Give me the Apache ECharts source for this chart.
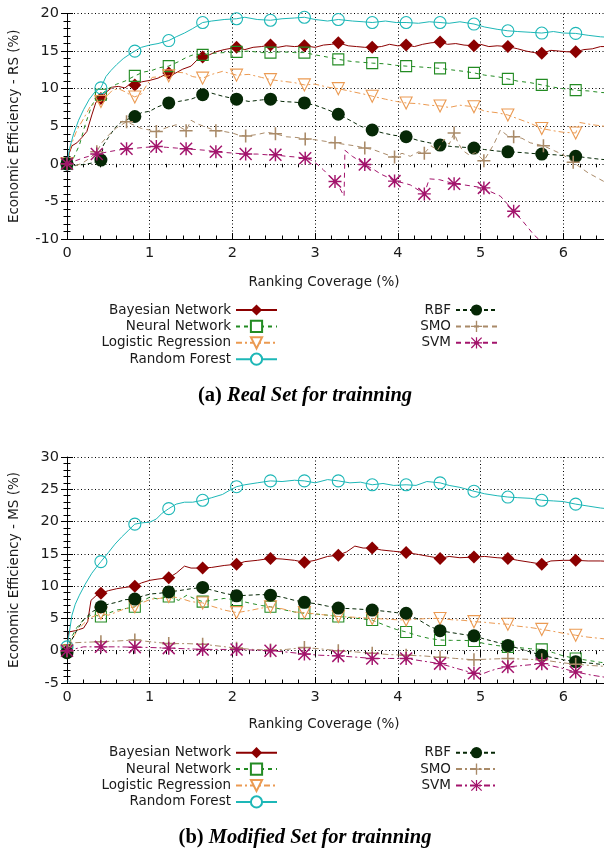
<!DOCTYPE html>
<html>
<head>
<meta charset="utf-8">
<script src="https://cdn.jsdelivr.net/npm/echarts@6/dist/echarts.min.js"></script>
<style>
html, body { margin: 0; padding: 0; background: #fff; }
#top { position: absolute; left: 0; top: 0; width: 604px; height: 424px; }
#bottom { position: absolute; left: 0; top: 424px; width: 604px; height: 425px; }
</style>
</head>
<body>
<div id="top"></div>
<div id="bottom"></div>
<script>
var names = ['Bayesian Network', 'Neural Network', 'Logistic Regression', 'Random Forest', 'RBF', 'SMO', 'SVM'];
var xTicks = [0, 1, 2, 3, 4, 5, 6];

// where the point markers sit (ranking coverage, %)
var markA = [0, 0.41, 0.82, 1.23, 1.64, 2.05, 2.46, 2.87, 3.28, 3.69, 4.1, 4.51, 4.92, 5.33, 5.74, 6.15];
var markB = [0, 0.36, 0.72, 1.08, 1.44, 1.8, 2.16, 2.52, 2.88, 3.24, 3.6, 3.96, 4.32, 4.68, 5.04, 5.4, 5.76, 6.12];

// (a) real set: [coverage %, efficiency %]
var bnA = [[0,0],[0.03,1.5],[0.06,2.4],[0.12,2.8],[0.18,3.5],[0.24,4.3],[0.3,6.5],[0.35,8.2],[0.41,8.7],[0.48,9.6],[0.55,10.2],[0.62,10.3],[0.7,10.1],[0.76,10.6],[0.82,10.5],[0.9,10.9],[1.0,11.1],[1.1,11.4],[1.23,12.1],[1.3,12.0],[1.4,12.6],[1.5,13.0],[1.58,13.9],[1.64,14.2],[1.72,14.5],[1.8,14.9],[1.9,15.2],[2.05,15.5],[2.15,15.2],[2.25,15.5],[2.35,15.6],[2.46,15.8],[2.55,15.5],[2.65,15.7],[2.75,15.6],[2.87,15.7],[3.0,15.5],[3.1,15.8],[3.2,15.9],[3.28,16.1],[3.4,15.7],[3.5,15.6],[3.6,15.5],[3.69,15.5],[3.8,15.6],[3.9,15.9],[4.0,15.7],[4.1,15.8],[4.2,15.6],[4.3,15.9],[4.4,16.1],[4.51,16.2],[4.6,15.9],[4.7,16.0],[4.8,15.8],[4.92,15.7],[5.0,15.9],[5.1,15.6],[5.2,15.7],[5.33,15.6],[5.45,15.3],[5.55,15.0],[5.65,14.8],[5.74,14.7],[5.85,15.1],[5.95,15.0],[6.05,14.9],[6.15,14.9],[6.25,15.2],[6.35,15.3],[6.45,15.6],[6.6,15.6]];
var nnA = [[0,0],[0.08,0.8],[0.15,2.5],[0.22,5.2],[0.3,7.8],[0.36,8.8],[0.41,9.2],[0.5,10.0],[0.6,10.6],[0.7,11.0],[0.82,11.7],[0.92,12.2],[1.02,12.4],[1.12,12.8],[1.23,13.0],[1.35,13.6],[1.45,14.2],[1.55,14.6],[1.64,14.5],[1.75,14.7],[1.9,14.8],[2.05,14.9],[2.2,15.0],[2.35,14.8],[2.46,14.8],[2.6,14.9],[2.75,14.8],[2.87,14.8],[3.0,14.5],[3.15,14.2],[3.28,13.9],[3.45,13.6],[3.58,13.5],[3.69,13.4],[3.85,13.3],[3.98,13.1],[4.1,13.0],[4.25,12.9],[4.38,12.8],[4.51,12.7],[4.65,12.5],[4.8,12.3],[4.92,12.1],[5.05,11.8],[5.2,11.6],[5.33,11.3],[5.45,11.0],[5.6,10.8],[5.74,10.5],[5.88,10.2],[6.0,10.0],[6.15,9.8],[6.3,9.7],[6.45,9.5],[6.6,9.4]];
var lrA = [[0,0],[0.05,2.5],[0.12,4.5],[0.2,6.0],[0.28,7.6],[0.35,8.2],[0.41,8.3],[0.48,9.0],[0.55,9.8],[0.62,10.0],[0.7,9.6],[0.76,9.2],[0.82,8.9],[0.9,9.3],[0.97,10.6],[1.03,11.5],[1.12,11.6],[1.23,11.7],[1.32,12.2],[1.42,12.1],[1.52,11.6],[1.64,11.4],[1.75,11.9],[1.88,12.3],[2.05,11.8],[2.2,11.9],[2.35,11.5],[2.46,11.2],[2.6,11.0],[2.75,10.8],[2.87,10.5],[3.0,10.6],[3.15,10.2],[3.28,10.0],[3.45,9.6],[3.58,9.3],[3.69,9.0],[3.85,8.6],[3.98,8.3],[4.1,8.1],[4.25,8.0],[4.38,7.8],[4.51,7.7],[4.62,7.5],[4.75,7.8],[4.92,7.6],[5.05,7.0],[5.2,6.8],[5.33,6.5],[5.45,6.0],[5.6,5.4],[5.74,4.7],[5.88,4.4],[6.0,4.2],[6.15,4.1],[6.2,5.5],[6.35,5.2],[6.5,5.0],[6.6,4.9]];
var rfA = [[0,0],[0.03,2.0],[0.08,4.0],[0.14,5.8],[0.2,7.2],[0.27,8.6],[0.34,9.6],[0.41,10.1],[0.47,11.6],[0.53,12.4],[0.6,13.2],[0.68,14.0],[0.76,14.6],[0.82,15.0],[0.9,15.5],[1.0,15.8],[1.1,16.0],[1.23,16.4],[1.32,16.9],[1.42,17.4],[1.52,18.0],[1.64,18.8],[1.75,19.0],[1.9,19.2],[2.05,19.3],[2.15,19.5],[2.3,19.2],[2.46,19.1],[2.6,19.3],[2.75,19.4],[2.87,19.5],[3.0,19.2],[3.15,19.0],[3.28,19.2],[3.45,19.0],[3.58,18.9],[3.69,18.8],[3.85,19.0],[3.98,18.8],[4.1,18.8],[4.25,18.7],[4.38,18.9],[4.51,18.8],[4.62,18.7],[4.75,18.9],[4.92,18.6],[5.05,18.2],[5.2,17.9],[5.33,17.7],[5.45,17.6],[5.6,17.5],[5.74,17.4],[5.88,17.6],[6.0,17.4],[6.15,17.35],[6.3,17.1],[6.45,16.9],[6.6,16.8]];
var rbfA = [[0,0],[0.1,-0.2],[0.2,-0.1],[0.3,0.1],[0.41,0.5],[0.44,2.5],[0.5,3.5],[0.58,4.8],[0.66,5.6],[0.75,6.0],[0.82,6.3],[0.9,6.8],[1.0,7.0],[1.1,7.6],[1.23,8.1],[1.35,8.3],[1.5,8.6],[1.64,9.2],[1.75,9.4],[1.88,9.0],[2.05,8.6],[2.2,8.3],[2.35,8.5],[2.46,8.6],[2.6,8.3],[2.75,8.2],[2.87,8.1],[3.0,7.8],[3.15,7.2],[3.28,6.6],[3.42,5.8],[3.55,5.0],[3.69,4.5],[3.82,4.1],[3.95,3.8],[4.1,3.6],[4.25,3.1],[4.38,2.8],[4.51,2.5],[4.65,2.3],[4.8,2.2],[4.92,2.1],[5.05,1.9],[5.2,1.7],[5.33,1.6],[5.5,1.5],[5.6,1.4],[5.74,1.3],[5.9,1.2],[6.0,1.1],[6.15,1.0],[6.3,0.8],[6.45,0.6],[6.6,0.5]];
var smoA = [[0,0],[0.1,-0.3],[0.2,0.2],[0.28,0.8],[0.36,1.6],[0.42,2.8],[0.5,3.8],[0.6,4.8],[0.72,5.6],[0.8,5.2],[0.9,4.7],[1.0,4.5],[1.08,4.3],[1.2,4.8],[1.32,5.2],[1.44,4.4],[1.5,5.8],[1.58,5.3],[1.7,4.8],[1.8,4.4],[1.9,4.3],[2.0,4.1],[2.08,3.8],[2.16,3.7],[2.3,3.9],[2.42,4.2],[2.52,4.0],[2.65,3.6],[2.78,3.5],[2.88,3.3],[3.0,3.2],[3.12,3.0],[3.24,2.8],[3.35,2.6],[3.48,2.4],[3.6,2.1],[3.7,1.9],[3.8,1.5],[3.9,1.1],[3.96,0.9],[4.05,1.4],[4.15,1.0],[4.25,1.6],[4.32,1.4],[4.4,2.4],[4.48,1.8],[4.56,3.3],[4.62,2.6],[4.68,4.1],[4.72,3.0],[4.78,1.8],[4.86,1.2],[4.94,1.5],[5.04,0.4],[5.1,1.5],[5.16,2.6],[5.24,4.5],[5.32,3.8],[5.4,3.6],[5.5,3.4],[5.6,2.8],[5.76,2.4],[5.9,1.7],[6.0,1.2],[6.12,0.2],[6.3,-1.2],[6.5,-2.4],[6.6,-2.8]];
var svmA = [[0,0],[0.1,0.4],[0.2,0.8],[0.36,1.3],[0.5,1.6],[0.6,1.8],[0.72,2.0],[0.85,2.1],[0.95,2.2],[1.08,2.3],[1.2,2.2],[1.32,2.1],[1.44,2.0],[1.56,1.9],[1.68,1.8],[1.8,1.6],[1.92,1.5],[2.04,1.4],[2.16,1.3],[2.3,1.3],[2.42,1.2],[2.52,1.2],[2.65,1.0],[2.78,0.9],[2.88,0.75],[2.95,0.5],[3.02,0.0],[3.1,-0.8],[3.18,-1.7],[3.24,-2.35],[3.3,-3.3],[3.35,-4.3],[3.36,1.8],[3.45,1.0],[3.52,0.5],[3.6,-0.1],[3.7,-0.7],[3.8,-1.4],[3.9,-1.9],[3.96,-2.3],[4.05,-2.5],[4.15,-2.8],[4.25,-3.5],[4.32,-4.0],[4.38,-2.0],[4.5,-2.1],[4.6,-2.4],[4.68,-2.65],[4.8,-2.8],[4.92,-3.0],[5.04,-3.2],[5.12,-3.7],[5.24,-4.3],[5.32,-5.3],[5.4,-6.3],[5.5,-7.5],[5.56,-8.3],[5.64,-9.4],[5.7,-10.0],[5.76,-10.9],[5.9,-12],[6.12,-13],[6.6,-14]];

// (b) modified set
var bnB = [[0,0],[0.02,2.9],[0.1,3.1],[0.2,3.5],[0.25,4.5],[0.29,7.8],[0.35,8.5],[0.41,8.9],[0.5,9.3],[0.6,9.6],[0.7,9.8],[0.82,10.0],[0.9,10.5],[1.0,10.9],[1.1,11.1],[1.23,11.3],[1.32,12.0],[1.42,13.1],[1.5,12.8],[1.64,12.8],[1.75,12.9],[1.9,13.2],[2.05,13.4],[2.15,13.8],[2.3,14.0],[2.46,14.3],[2.6,14.2],[2.75,14.0],[2.87,13.7],[3.0,14.0],[3.15,14.6],[3.28,14.8],[3.38,15.3],[3.48,16.2],[3.58,15.9],[3.69,15.9],[3.8,15.6],[3.95,15.4],[4.1,15.2],[4.25,14.9],[4.38,14.6],[4.51,14.3],[4.62,14.6],[4.75,14.4],[4.92,14.5],[5.05,14.6],[5.2,14.4],[5.33,14.3],[5.45,14.0],[5.6,13.7],[5.74,13.4],[5.85,13.9],[6.0,14.0],[6.15,14.0],[6.3,13.9],[6.45,13.9],[6.6,13.8]];
var nnB = [[0,0],[0.05,2.0],[0.12,3.6],[0.2,4.8],[0.3,5.6],[0.41,5.3],[0.5,5.8],[0.6,6.3],[0.7,6.5],[0.82,6.8],[0.9,7.6],[1.0,8.3],[1.1,8.0],[1.23,8.4],[1.35,7.8],[1.45,8.6],[1.55,8.0],[1.64,7.6],[1.75,7.8],[1.9,8.1],[2.05,7.85],[2.2,7.4],[2.35,7.0],[2.46,6.8],[2.6,6.4],[2.75,6.0],[2.87,5.8],[3.0,5.7],[3.15,5.5],[3.28,5.3],[3.45,5.1],[3.58,4.9],[3.69,4.75],[3.85,3.9],[3.98,3.3],[4.1,2.9],[4.25,2.3],[4.38,1.9],[4.51,1.66],[4.65,1.6],[4.8,1.6],[4.92,1.5],[5.05,1.1],[5.2,0.8],[5.33,0.6],[5.45,0.5],[5.6,0.3],[5.74,0.2],[5.88,-0.3],[6.0,-0.8],[6.15,-1.2],[6.3,-1.5],[6.45,-1.8],[6.6,-2.0]];
var lrB = [[0,0],[0.05,1.5],[0.12,3.0],[0.2,4.2],[0.3,5.2],[0.41,5.8],[0.5,5.5],[0.6,6.0],[0.7,6.5],[0.82,6.8],[0.92,7.5],[1.02,8.0],[1.12,8.1],[1.23,8.4],[1.35,8.2],[1.5,7.6],[1.64,7.4],[1.75,6.9],[1.9,6.3],[2.05,5.9],[2.2,6.2],[2.35,6.6],[2.46,6.8],[2.6,6.5],[2.75,6.0],[2.87,5.9],[3.0,5.7],[3.15,5.5],[3.28,5.3],[3.45,5.2],[3.58,5.1],[3.69,5.0],[3.85,4.9],[3.98,4.8],[4.1,4.75],[4.25,4.9],[4.38,5.0],[4.51,5.0],[4.65,4.8],[4.8,4.7],[4.92,4.5],[5.05,4.4],[5.2,4.2],[5.33,4.1],[5.45,3.8],[5.6,3.6],[5.74,3.3],[5.88,3.0],[6.0,2.7],[6.15,2.4],[6.3,2.1],[6.45,1.9],[6.6,1.7]];
var rfB = [[0,0.6],[0.03,3.0],[0.06,5.5],[0.1,7.2],[0.15,8.6],[0.22,10.3],[0.3,12.0],[0.36,13.0],[0.41,13.8],[0.5,15.2],[0.58,16.5],[0.66,17.6],[0.74,18.6],[0.82,19.6],[0.9,19.8],[1.0,19.9],[1.08,20.4],[1.15,21.3],[1.23,22.0],[1.32,22.7],[1.42,23.0],[1.52,23.0],[1.64,23.3],[1.75,23.7],[1.88,24.2],[1.96,24.8],[2.05,25.4],[2.15,25.7],[2.3,26.0],[2.46,26.3],[2.6,26.2],[2.75,26.4],[2.87,26.3],[3.0,26.0],[3.15,26.5],[3.28,26.3],[3.42,26.0],[3.55,26.1],[3.69,25.7],[3.82,25.9],[3.95,25.6],[4.1,25.7],[4.22,25.6],[4.35,26.2],[4.51,26.0],[4.62,25.6],[4.75,25.3],[4.92,24.7],[5.05,24.3],[5.2,24.0],[5.33,23.8],[5.45,23.7],[5.6,23.6],[5.74,23.3],[5.88,23.2],[6.0,23.1],[6.15,22.7],[6.3,22.4],[6.45,22.1],[6.6,21.9]];
var rbfB = [[0,-0.3],[0.05,1.5],[0.12,3.2],[0.2,4.8],[0.3,6.0],[0.41,6.8],[0.5,7.2],[0.6,7.5],[0.7,7.9],[0.82,8.0],[0.92,8.5],[1.02,8.8],[1.12,8.9],[1.23,9.1],[1.35,9.3],[1.5,9.6],[1.64,9.8],[1.75,9.4],[1.9,8.9],[2.05,8.5],[2.2,8.6],[2.35,8.7],[2.46,8.6],[2.6,8.3],[2.75,7.8],[2.87,7.5],[3.0,7.3],[3.15,6.9],[3.28,6.6],[3.45,6.5],[3.58,6.4],[3.69,6.3],[3.85,6.1],[3.98,5.9],[4.1,5.8],[4.25,4.8],[4.38,3.8],[4.51,3.1],[4.65,2.8],[4.8,2.5],[4.92,2.3],[5.05,1.8],[5.2,1.3],[5.33,0.8],[5.45,0.4],[5.6,-0.2],[5.74,-0.7],[5.88,-1.1],[6.0,-1.4],[6.15,-1.7],[6.3,-1.9],[6.45,-2.1],[6.6,-2.3]];
var smoB = [[0,0],[0.03,1.2],[0.2,1.3],[0.41,1.4],[0.6,1.5],[0.82,1.66],[1.0,1.4],[1.23,1.1],[1.45,1.1],[1.64,1.0],[1.85,0.7],[2.05,0.4],[2.25,0.2],[2.46,0.1],[2.65,0.2],[2.87,0.5],[3.05,0.3],[3.28,0.0],[3.5,-0.2],[3.69,-0.4],[3.9,-0.6],[4.1,-0.7],[4.3,-0.8],[4.51,-1.0],[4.7,-1.2],[4.92,-1.4],[5.1,-1.3],[5.33,-1.2],[5.5,-1.3],[5.74,-1.4],[5.95,-1.8],[6.15,-2.1],[6.35,-2.3],[6.6,-2.5]];
var svmB = [[0,0],[0.2,0.6],[0.41,0.6],[0.6,0.6],[0.82,0.55],[1.0,0.5],[1.23,0.4],[1.45,0.3],[1.64,0.2],[1.85,0.2],[2.05,0.2],[2.25,0.1],[2.46,0.0],[2.65,-0.2],[2.87,-0.5],[3.05,-0.7],[3.28,-0.8],[3.5,-1.0],[3.69,-1.2],[3.9,-1.2],[4.1,-1.2],[4.3,-1.6],[4.51,-2.0],[4.7,-2.7],[4.92,-3.5],[5.0,-3.7],[5.1,-3.2],[5.2,-2.8],[5.33,-2.5],[5.5,-2.3],[5.74,-2.0],[5.95,-2.6],[6.15,-3.3],[6.35,-3.8],[6.6,-4.3]];

var colors = ['#8b0000', '#238b23', '#eb9a52', '#1db7b7', '#062806', '#a98a68', '#a3146c'];
var PLUS = 'path://M4.4,0H5.6V10H4.4Z M0,4.4H10V5.6H0Z';
var STAR = 'path://M4.45,0H5.55V10H4.45Z M0,4.45H10V5.55H0Z M0.8,0L10,9.2L9.2,10L0,0.8Z M9.2,0L10,0.8L0.8,10L0,9.2Z';
var shapes = [
  { legend: 'diamond', sym: 'diamond', size: 13 },
  { legend: 'emptyRect', sym: 'rect', size: 11, hollow: true },
  { legend: 'emptyTriangle', sym: 'triangle', size: 12, hollow: true, rot: 180 },
  { legend: 'emptyCircle', sym: 'circle', size: 12, hollow: true },
  { legend: 'circle', sym: 'circle', size: 13 },
  { legend: PLUS, sym: PLUS, size: 13 },
  { legend: STAR, sym: STAR, size: 13 }
];
var FONT = 'DejaVu Sans';

function markers(pts, xs) {
  return pts.filter(function (p) { return xs.indexOf(p[0]) >= 0; });
}

function legendCol(list, right, top) {
  return {
    data: list, orient: 'vertical', align: 'right', right: right, top: top, padding: 0,
    itemWidth: 41, itemHeight: 14, itemGap: 2.4, selectedMode: false,
    textStyle: { fontFamily: FONT, fontSize: 13.5, color: '#1a1a1a' }
  };
}

function build(p) {
  var series = [];
  names.forEach(function (n, i) {
    var s = shapes[i];
    series.push({
      name: n, type: 'line', data: p.data[i], showSymbol: false, symbol: s.legend, symbolRotate: s.rot || 0,
      itemStyle: { color: colors[i] }, lineStyle: { color: colors[i], width: 1, type: p.dash[i] },
      clip: true, animation: false, silent: true, z: 2 + i
    });
    series.push({
      name: n + ' marks', type: 'scatter', data: markers(p.data[i], p.marks[i]),
      symbol: s.sym, symbolSize: s.size, symbolRotate: s.rot || 0,
      itemStyle: s.hollow
        ? { color: 'rgba(0,0,0,0)', borderColor: colors[i], borderWidth: 1.1, opacity: 1 }
        : { color: colors[i], opacity: 1 },
      clip: true, animation: false, silent: true, z: 2 + i
    });
  });
  var tickLine = { color: '#000', width: 1 };
  return {
    animation: false,
    title: {
      text: '{a|' + p.tag + ' }{b|' + p.caption + '}', left: 305, textAlign: 'center', top: p.capTop, padding: 0,
      textStyle: { rich: {
        a: { fontFamily: 'Liberation Serif', fontWeight: 'bold', fontSize: 20.5, color: '#000' },
        b: { fontFamily: 'Liberation Serif', fontWeight: 'bold', fontStyle: 'italic', fontSize: 20.5, color: '#000' }
      } }
    },
    legend: [legendCol(names.slice(0, 4), 326, p.legTop), legendCol(names.slice(4), 106, p.legTop)],
    // grid 0 runs to 7 % (past the right edge, so 6.5 % sits at the border); grid 1 only carries the mirror ticks
    grid: [
      { left: 67, top: p.gridTop, height: p.gridH, width: 579, outerBoundsMode: 'none', containLabel: false },
      { left: 67, top: p.gridTop, height: p.gridH, width: 537, outerBoundsMode: 'none', containLabel: false }
    ],
    xAxis: [{
      type: 'value', gridIndex: 0, min: 0, max: 7, interval: 1, position: 'bottom',
      axisLine: { show: true, onZero: false, lineStyle: tickLine },
      axisTick: { inside: true, length: 6, lineStyle: tickLine },
      minorTick: { show: true, splitNumber: 5, length: 3.5, lineStyle: tickLine },
      splitLine: { show: true, lineStyle: { color: '#000', width: 1, type: [1, 2.5] } },
      axisLabel: { margin: 7, fontFamily: FONT, fontSize: 14.5, color: '#1a1a1a',
        formatter: function (v) { return xTicks.indexOf(v) >= 0 ? String(v) : ''; } },
      name: 'Ranking Coverage (%)', nameLocation: 'middle', nameGap: p.xGap,
      nameTextStyle: { fontFamily: FONT, fontSize: 13.5, color: '#1a1a1a', padding: [0, 65, 0, 0] }
    }, {
      type: 'value', gridIndex: 0, min: 0, max: 7, interval: 1, position: 'top',
      axisLine: { show: false }, axisLabel: { show: false }, splitLine: { show: false },
      axisTick: { inside: true, length: 6, lineStyle: tickLine },
      minorTick: { show: true, splitNumber: 5, length: 3.5, lineStyle: tickLine }
    }, {
      type: 'value', gridIndex: 1, min: 0, max: 1, show: false
    }],
    yAxis: [{
      type: 'value', gridIndex: 0, min: p.yMin, max: p.yMax, interval: 5, position: 'left',
      axisLine: { show: true, onZero: false, lineStyle: tickLine },
      axisTick: { inside: true, length: 6, lineStyle: tickLine },
      minorTick: { show: true, splitNumber: 5, length: 3.5, lineStyle: tickLine },
      splitLine: { show: true, lineStyle: { color: '#000', width: 1, type: [1, 2.5] } },
      axisLabel: { margin: 8, fontFamily: FONT, fontSize: 14.5, color: '#1a1a1a' },
      name: p.yName, nameLocation: 'middle', nameGap: 46,
      nameTextStyle: { fontFamily: FONT, fontSize: 13.5, color: '#1a1a1a' }
    }, {
      type: 'value', gridIndex: 1, min: p.yMin, max: p.yMax, interval: 5, position: 'right',
      axisLine: { show: false }, axisLabel: { show: false }, splitLine: { show: false },
      axisTick: { inside: true, length: 6, lineStyle: tickLine },
      minorTick: { show: true, splitNumber: 5, length: 3.5, lineStyle: tickLine }
    }],
    series: series
  };
}

var dashA = ['solid', [4, 4], [6, 3, 2, 3], 'solid', [4, 3], [5, 4], [5, 4]];
var dashB = ['solid', [4, 4], [6, 3, 2, 3], 'solid', [4, 3], [6, 3, 2, 3], [6, 3, 2, 3]];

var chartA = echarts.init(document.getElementById('top'));
chartA.setOption(build({
  data: [bnA, nnA, lrA, rfA, rbfA, smoA, svmA],
  marks: [markA, markA, markA, markA, markA, markB, markB],
  dash: dashA, yMin: -10, yMax: 20, yName: 'Economic Efficiency - RS (%)',
  gridTop: 13.5, gridH: 225.5, xGap: 36, legTop: 303,
  tag: '(a)', caption: 'Real Set for trainning', capTop: 385.5
}));

var chartB = echarts.init(document.getElementById('bottom'));
chartB.setOption(build({
  data: [bnB, nnB, lrB, rfB, rbfB, smoB, svmB],
  marks: [markA, markA, markA, markA, markA, markA, markA],
  dash: dashB, yMin: -5, yMax: 30, yName: 'Economic Efficiency - MS (%)',
  gridTop: 33, gridH: 226, xGap: 34.5, legTop: 321.7,
  tag: '(b)', caption: 'Modified Set for trainning', capTop: 403
}));
</script>
</body>
</html>
